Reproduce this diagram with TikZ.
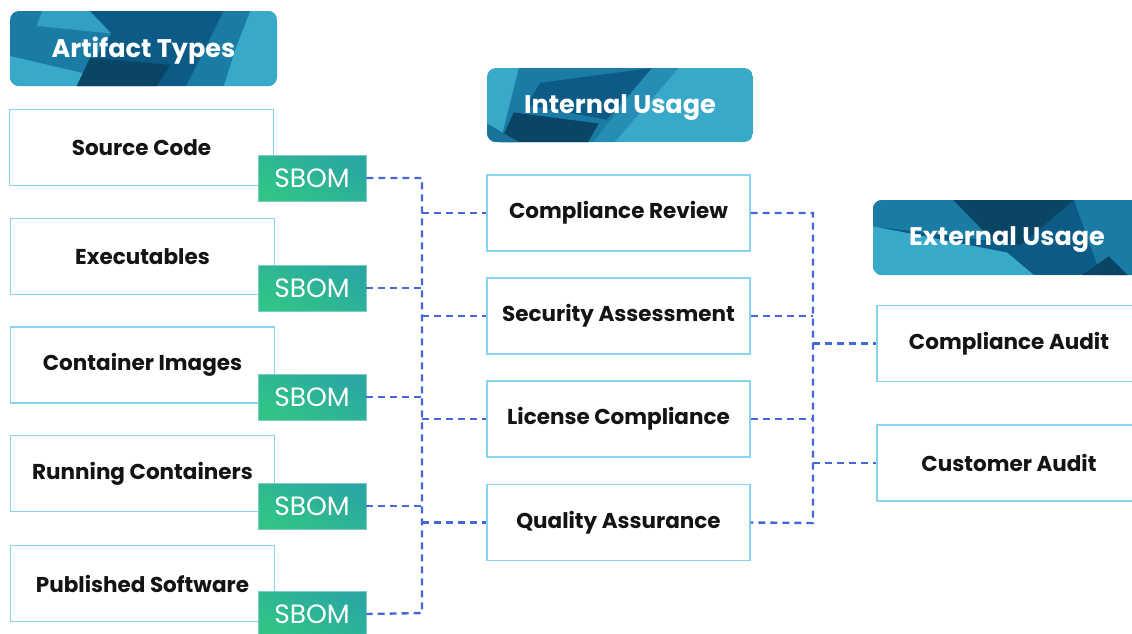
\documentclass[tikz,border=0pt]{standalone}
\usepackage{fontspec}
\setmainfont{Poppins}
\usetikzlibrary{calc}
\definecolor{boxline}{HTML}{86D4F2}
\definecolor{dashblue}{HTML}{4468D8}
\definecolor{sbomA}{HTML}{2AA7A2}
\definecolor{sbomB}{HTML}{31C487}
\definecolor{hLight}{HTML}{38A9C9}
\definecolor{hMid}{HTML}{1A7BA5}
\definecolor{hDark}{HTML}{0C5A86}
\definecolor{hDeep}{HTML}{0A4566}
\definecolor{txt}{HTML}{141414}
\tikzset{
  itembox/.style={draw=boxline, line width=1.4pt, fill=white, minimum width=264pt, minimum height=76pt, inner sep=0pt, text=txt, font=\fontsize{21.5}{25}\selectfont\bfseries},
  sbombox/.style={draw=sbomA!60, line width=0.8pt, top color=sbomA, bottom color=sbomB, shading angle=-30, minimum width=108pt, minimum height=46pt, inner sep=0pt, text=white, font=\fontsize{26.5}{30}\selectfont},
  hdrtext/.style={minimum width=267pt, minimum height=75pt, inner sep=0pt, text=white, font=\fontsize{25.5}{30}\selectfont\bfseries},
  dashconn/.style={draw=dashblue, line width=2.4pt, dash pattern=on 7pt off 5pt},
}
\newcommand\hdrstart[4]{\begin{scope}\clip[rounded corners=9pt] (#1,#2) rectangle ++(#3,#4);\begin{scope}[shift={(#1,#2)}, x={(#3pt,0)}, y={(0,-#4pt)}]}
\newcommand\hdrend{\end{scope}\end{scope}}
\begin{document}
\begin{tikzpicture}[x=1pt,y=-1pt]
\useasboundingbox (0,0) rectangle (1132,633);
\fill[white] (0,0) rectangle (1132,633);

% ---- header backgrounds ----
\hdrstart{10}{11}{267}{75}
  \fill[hMid] (0,0) rectangle (1,1);
  \fill[hLight!80!hMid] (0.12,0) -- (0.3,0) -- (0.38,0.3) -- (0.1,0.2) -- cycle;
  \fill[hLight] (0,0.6) -- (0.3,0.85) -- (0.25,1) -- (0,1) -- cycle;
  \fill[hDark] (0.3,0) -- (0.8,0) -- (0.66,1) -- (0.25,1) -- (0.38,0.3) -- cycle;
  \fill[hDeep] (0.3,0.62) -- (0.6,0.72) -- (0.55,1) -- (0.25,1) -- cycle;
  \fill[hLight] (0.9,0) -- (1,0) -- (1,1) -- (0.8,1) -- (0.84,0.55) -- cycle;
  \fill[hMid] (0.66,1) -- (0.8,0.4) -- (0.84,0.55) -- (0.8,1) -- cycle;
\hdrend
\hdrstart{487}{68}{266}{74}
  \fill[hLight] (0,0) rectangle (1,1);
  \fill[hMid] (0.12,0) -- (0.62,0) -- (0.4,1) -- (0.05,1) -- cycle;
  \fill[hDark] (0.2,0.2) -- (0.62,0) -- (0.45,0.7) -- (0.15,0.5) -- cycle;
  \fill[hDeep] (0.1,0.6) -- (0.42,0.75) -- (0.38,1) -- (0.05,1) -- cycle;
  \fill[hDark!70!hLight] (0,0.75) -- (0.12,1) -- (0,1) -- cycle;
  \fill[hMid!60!hLight] (0.62,0) -- (0.72,0) -- (0.48,1) -- (0.4,1) -- cycle;
\hdrend
\hdrstart{873}{200}{268}{75}
  \fill[hDark] (0,0) rectangle (1,1);
  \fill[hMid] (0,0) -- (0.3,0) -- (0.45,0.55) -- (0,0.35) -- cycle;
  \fill[hLight] (0,0.35) -- (0.5,0.7) -- (0.6,1) -- (0,1) -- cycle;
  \fill[hDeep] (0.3,0) -- (0.75,0) -- (0.55,0.6) -- (0.45,0.55) -- cycle;
  \fill[hMid] (0.75,0) -- (1,0) -- (1,1) -- (0.85,1) -- cycle;
  \fill[hDeep] (0.78,1) -- (0.88,0.75) -- (0.95,1) -- cycle;
\hdrend

% ---- header texts ----
\node[hdrtext] (hA) at (143.5,51) {Artifact Types};
\node[hdrtext] (hI) at (620,107.5) {Internal Usage};
\node[hdrtext] (hE) at (1007,240) {External Usage};

% ---- artifact boxes ----
\node[itembox] (a1) at (141.5,147.5) {\raisebox{-2.5pt}{Source Code}};
\node[itembox] (a2) at (142.5,256.5) {\raisebox{-2.5pt}{Executables}};
\node[itembox] (a3) at (142.5,365) {\raisebox{-2.5pt}{Container Images}};
\node[itembox] (a4) at (142.5,473.5) {\raisebox{-2.5pt}{Running Containers}};
\node[itembox] (a5) at (142.5,583.5) {\raisebox{-2.5pt}{Published Software}};

\node[sbombox] (s1) at (312,178) {\raisebox{-1.5pt}{SBOM}};
\node[sbombox] (s2) at (312,288) {\raisebox{-1.5pt}{SBOM}};
\node[sbombox] (s3) at (312,397) {\raisebox{-1.5pt}{SBOM}};
\node[sbombox] (s4) at (312,506) {\raisebox{-1.5pt}{SBOM}};
\node[sbombox] (s5) at (312,614) {\raisebox{-1.5pt}{SBOM}};

% ---- internal boxes ----
\node[itembox, minimum width=263pt] (i1) at (618.5,213) {\raisebox{-2.5pt}{Compliance Review}};
\node[itembox, minimum width=263pt] (i2) at (618.5,316) {\raisebox{-2.5pt}{Security Assessment}};
\node[itembox, minimum width=263pt] (i3) at (618.5,419) {\raisebox{-2.5pt}{License Compliance}};
\node[itembox, minimum width=263pt] (i4) at (618.5,522.5) {\raisebox{-2.5pt}{Quality Assurance}};

% ---- external boxes ----
\node[itembox] (e1) at (1009,343.5) {\raisebox{-2.5pt}{Compliance Audit}};
\node[itembox] (e2) at (1009,463) {\raisebox{-2.5pt}{Customer Audit}};

% ---- connectors ----
\coordinate (busL) at (422,613);
\coordinate (busR) at (813,523);
\draw[dashconn] (s1.east) -| (busL) -- (s5.east);
\draw[dashconn] (s2.east) -- (s2.east -| busL);
\draw[dashconn] (s3.east) -- (s3.east -| busL);
\draw[dashconn] (s4.east) -- (s4.east -| busL);
\draw[dashconn] (i1.west -| busL) -- (i1.west);
\draw[dashconn] (i2.west -| busL) -- (i2.west);
\draw[dashconn] (i3.west -| busL) -- (i3.west);
\draw[dashconn] (i4.west -| busL) -- (i4.west);

\draw[dashconn] (i1.east) -| (busR) -- (i4.east);
\draw[dashconn] (i2.east) -- (i2.east -| busR);
\draw[dashconn] (i3.east) -- (i3.east -| busR);
\draw[dashconn] (e1.west -| busR) -- (e1.west);
\draw[dashconn] (e2.west -| busR) -- (e2.west);
\end{tikzpicture}
\end{document}
